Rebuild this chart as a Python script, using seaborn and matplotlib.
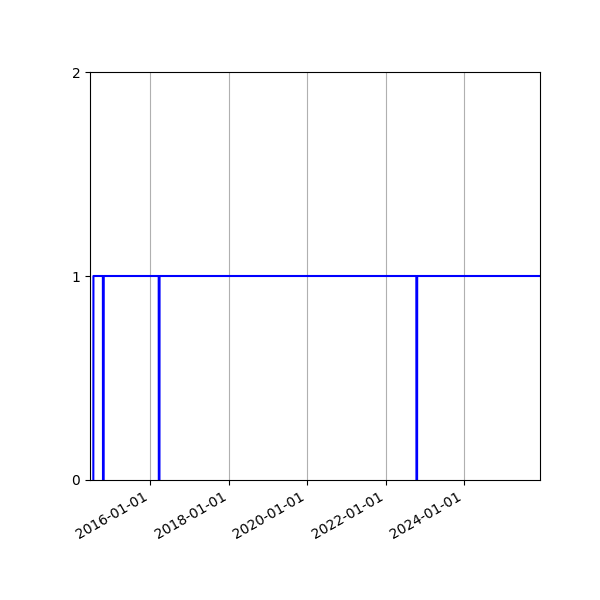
import matplotlib
matplotlib.use("Agg")
import matplotlib.pyplot as plt
import matplotlib.dates as mdates
import seaborn as sns
import pandas as pd

dates = ["2014-07-19", "2014-07-20",
         "2014-10-16", "2014-10-17", "2014-10-23", "2014-10-24",
         "2016-03-19", "2016-03-20", "2016-03-26", "2016-03-27",
         "2022-10-14", "2022-10-15", "2022-10-21", "2022-10-22",
         "2025-12-09"]
values = [0, 1,
          1, 0, 0, 1,
          1, 0, 0, 1,
          1, 0, 0, 1,
          1]
x_range = ["2014-06-18", "2025-12-09"]
y_ticks = [0, 1, 2]

df = pd.DataFrame({"date": pd.to_datetime(dates), "value": values})

fig, ax = plt.subplots(figsize=(6, 6), dpi=100)
sns.lineplot(data=df, x="date", y="value", color="blue", linewidth=1.5,
             sort=False, estimator=None, ax=ax)

ax.set_xlim(pd.to_datetime(x_range[0]), pd.to_datetime(x_range[1]))
ax.set_ylim(y_ticks[0], y_ticks[-1])
ax.set_yticks(y_ticks)
ax.xaxis.set_major_locator(mdates.YearLocator(2))
ax.xaxis.set_major_formatter(mdates.DateFormatter("%Y-%m-%d"))
ax.grid(axis="x", color="#b0b0b0", linewidth=0.8)
ax.set_xlabel("")
ax.set_ylabel("")
fig.autofmt_xdate()
fig.subplots_adjust(left=0.15, right=0.9, top=0.88, bottom=0.2)
fig.savefig("out.png", dpi=100)
